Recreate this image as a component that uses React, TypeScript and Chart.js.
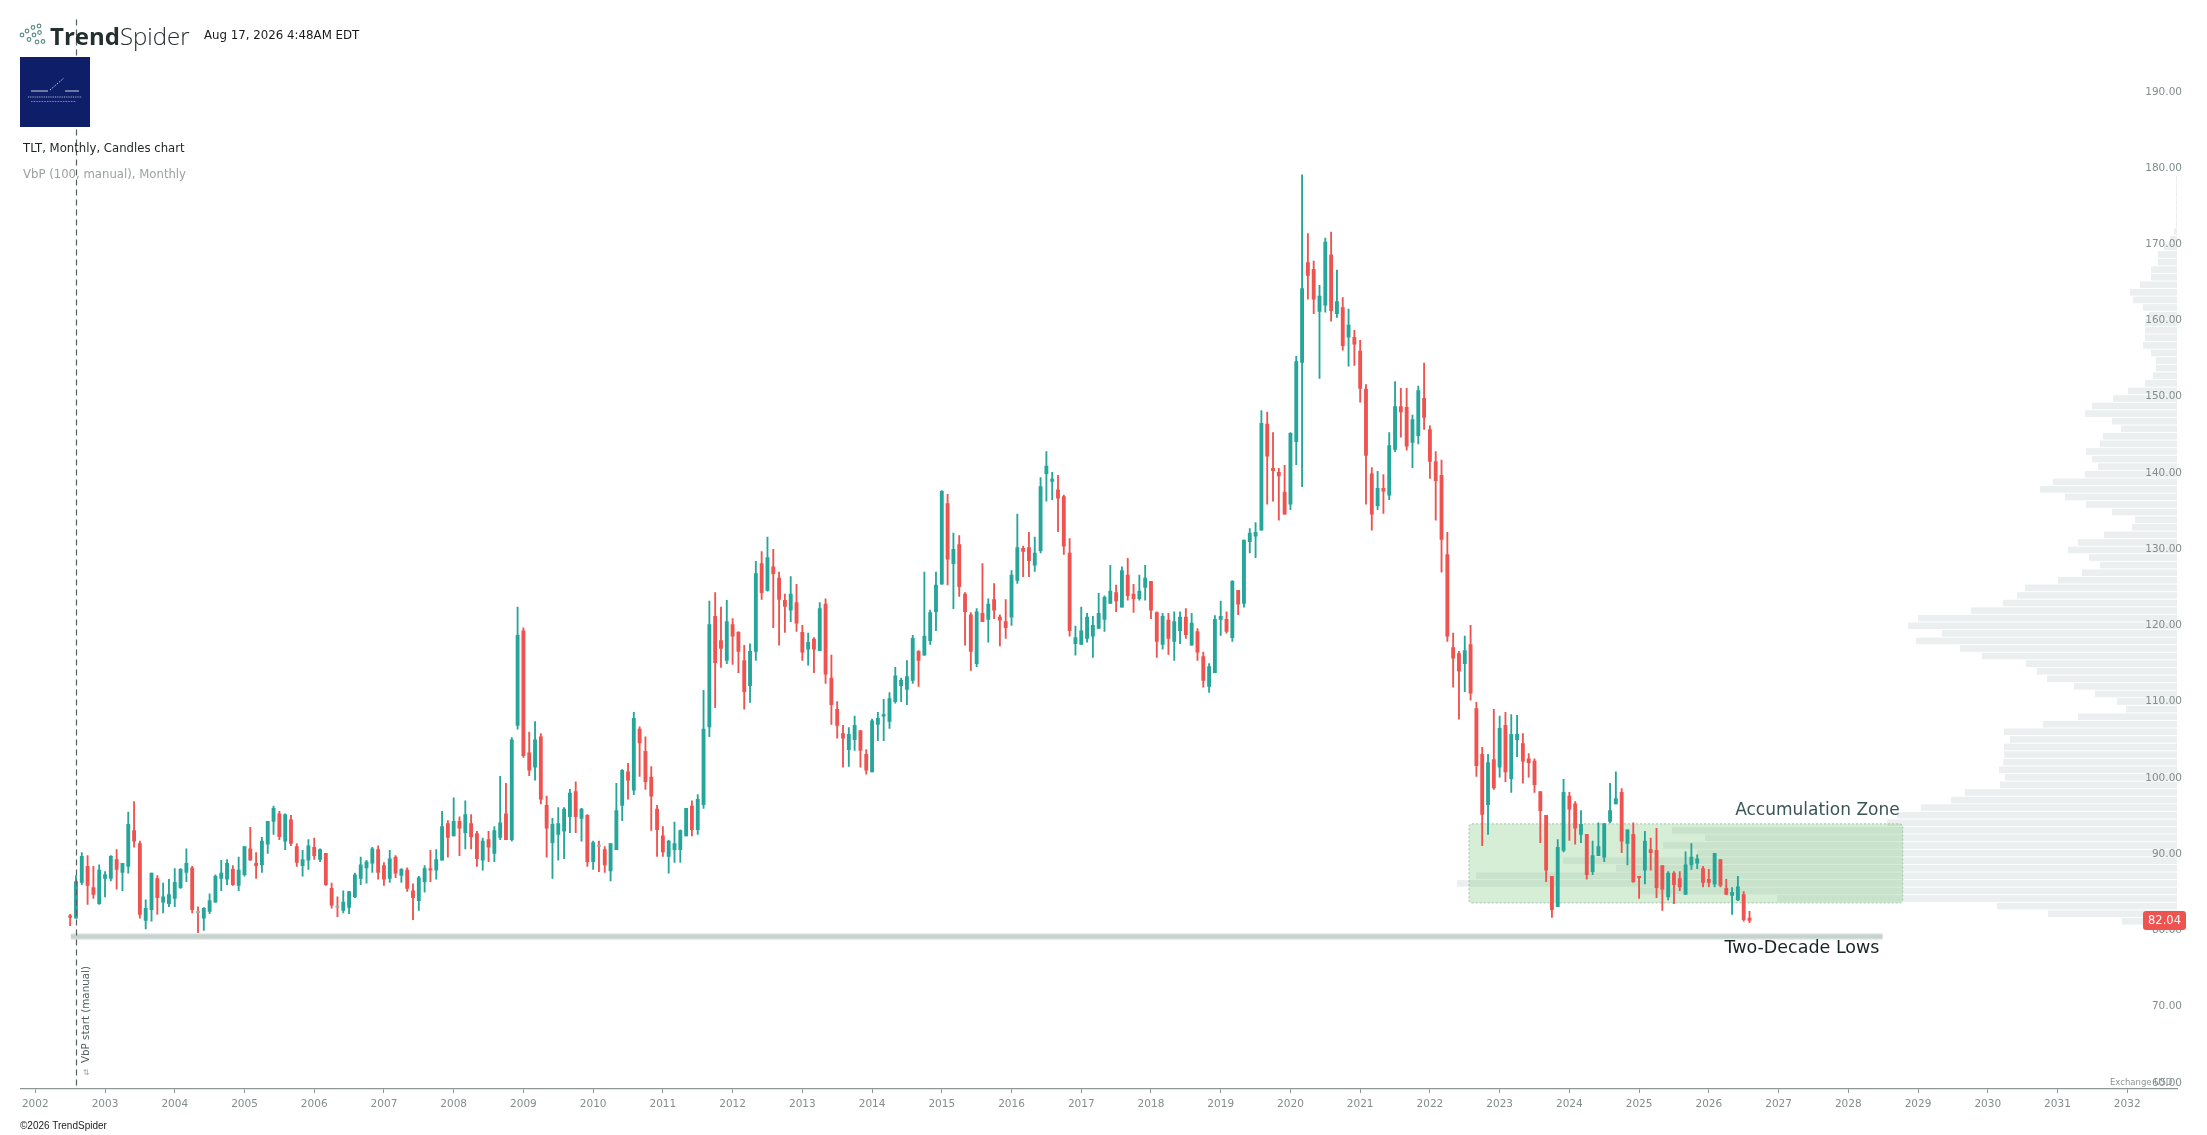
import React, { useEffect, useRef } from "react";
import { Chart, registerables } from "chart.js";

Chart.register(...registerables);

// ---------------- DATA ----------------
// Monthly TLT candles, first candle = July 2002, one value per month.
const FIRST_YEAR = 2002;
const FIRST_MONTH = 7;

const OPEN = [
  81.9, 81.6, 86.3, 88.4, 85.6, 83.5,
  86.8, 86.8, 89.3, 87.6, 88.4, 93.1, 91.4, 81.3, 82.7, 86.8, 83.7, 83.5,
  84.2, 85.6, 87.6, 88.2, 82.3, 81.6, 82.5, 83.7, 86.8, 86.7, 88.0, 85.9,
  87.3, 90.7, 88.8, 88.6, 91.3, 94.3, 95.3, 91.7, 94.5, 91.0, 88.5, 89.2,
  90.9, 89.3, 90.1, 85.5, 83.0, 82.6, 83.0, 84.4, 86.8, 88.2, 88.8, 90.6,
  88.5, 86.8, 89.6, 87.2, 87.9, 85.2, 83.9, 86.4, 88.1, 87.9, 89.2, 94.0,
  92.4, 94.3, 92.8, 94.0, 92.7, 89.2, 91.9, 90.1, 92.2, 95.3, 91.9, 106.9,
  119.3, 103.3, 101.4, 105.4, 96.4, 91.5, 92.6, 93.0, 94.9, 98.2, 94.7, 95.1,
  89.0, 91.0, 90.6, 87.8, 90.6, 96.4, 100.8, 98.4, 106.4, 103.5, 100.1, 95.9,
  92.4, 89.7, 90.6, 90.6, 92.4, 96.3, 93.2, 96.5, 106.7, 121.2, 118.0, 115.4,
  120.1, 119.1, 115.4, 112.1, 116.6, 128.1, 124.6, 127.7, 126.2, 123.3, 122.0, 123.0,
  119.1, 116.9, 118.2, 116.7, 122.8, 113.1, 109.0, 105.8, 103.7, 105.0, 106.2, 103.1,
  100.8, 107.0, 108.1, 107.4, 110.0, 112.1, 111.6, 112.8, 116.6, 116.1, 118.0, 121.8,
  125.4, 136.0, 128.1, 130.6, 124.1, 121.4, 115.0, 121.6, 120.8, 123.4, 121.1, 120.5,
  121.1, 125.9, 130.1, 130.2, 127.9, 129.8, 139.9, 138.9, 137.8, 136.9, 129.5, 117.6,
  117.5, 118.3, 118.6, 119.6, 120.8, 122.9, 124.3, 122.4, 126.6, 124.1, 123.5, 125.0,
  125.8, 121.7, 117.5, 120.7, 117.9, 119.3, 121.1, 117.4, 119.2, 115.9, 112.0, 113.8,
  120.8, 120.8, 118.4, 124.6, 122.9, 131.0, 131.7, 132.5, 146.4, 140.6, 140.1, 137.5,
  135.9, 144.1, 154.5, 167.6, 166.7, 161.2, 162.0, 168.6, 160.9, 161.7, 157.8, 157.8,
  156.0, 151.0, 139.9, 135.7, 138.0, 137.1, 143.1, 148.7, 148.6, 144.0, 144.9, 149.8,
  145.7, 141.5, 139.7, 129.3, 117.1, 116.3, 115.0, 117.5, 109.1, 103.1, 96.5, 102.4,
  101.4, 106.9, 99.9, 105.0, 104.5, 102.5, 102.2, 98.2, 95.1, 87.1, 83.1, 90.5,
  97.6, 96.6, 92.6, 92.6, 87.7, 89.8, 89.6, 94.3, 96.6, 98.1, 91.4, 92.6,
  87.0, 87.9, 90.6, 90.5, 88.5, 84.4, 87.5, 86.8, 84.7, 88.6, 88.8, 88.1,
  86.7, 86.1, 89.3, 85.5, 84.6, 84.0, 84.7, 81.6,
];

const HIGH = [
  82.1, 87.2, 90.2, 89.8, 88.4, 88.6,
  87.7, 89.8, 90.6, 88.8, 95.5, 96.9, 91.7, 84.0, 87.5, 87.2, 86.2, 86.7,
  88.1, 88.1, 90.7, 88.4, 83.1, 83.0, 84.8, 87.3, 89.2, 89.3, 88.5, 89.6,
  91.0, 93.5, 90.2, 92.2, 94.3, 96.3, 95.6, 95.3, 95.1, 91.4, 90.5, 91.9,
  92.1, 90.7, 90.1, 86.2, 84.4, 85.2, 85.1, 87.5, 89.6, 89.2, 90.9, 91.1,
  88.9, 90.5, 89.8, 88.1, 88.2, 86.1, 87.1, 88.5, 90.5, 90.6, 95.6, 94.4,
  97.4, 94.9, 97.0, 95.2, 93.0, 92.1, 93.0, 93.6, 100.2, 99.3, 105.3, 122.4,
  119.7, 106.0, 107.4, 105.8, 97.6, 94.7, 96.1, 96.1, 98.5, 99.5, 96.0, 95.2,
  91.7, 91.7, 91.0, 91.4, 99.3, 101.1, 101.9, 108.6, 106.7, 105.4, 101.5, 96.4,
  93.6, 91.8, 94.2, 93.2, 96.0, 97.0, 97.8, 111.5, 123.2, 124.3, 122.4, 123.3,
  120.9, 119.2, 117.4, 117.6, 128.4, 129.7, 131.6, 130.0, 127.0, 124.1, 126.4, 125.4,
  120.0, 119.0, 118.4, 123.0, 123.5, 116.1, 110.0, 106.9, 106.6, 108.1, 106.2, 103.7,
  107.7, 108.6, 110.3, 111.2, 114.5, 113.1, 115.4, 118.7, 116.7, 127.0, 122.0, 127.0,
  137.7, 137.2, 132.1, 131.8, 124.3, 121.7, 122.2, 128.1, 123.5, 125.5, 121.4, 123.4,
  127.2, 134.6, 130.4, 132.2, 131.6, 139.4, 142.8, 140.1, 139.7, 137.1, 131.4, 119.9,
  122.4, 121.6, 121.2, 124.2, 123.9, 127.9, 125.3, 127.7, 128.8, 125.4, 126.6, 127.9,
  125.8, 121.8, 121.6, 121.6, 121.8, 121.8, 122.2, 121.6, 119.6, 116.5, 115.0, 121.3,
  123.2, 121.8, 125.9, 124.6, 131.2, 132.7, 133.5, 148.2, 148.0, 145.3, 140.6, 141.0,
  145.3, 155.3, 179.1, 171.4, 167.8, 164.6, 170.8, 171.6, 166.6, 163.0, 161.5, 158.7,
  157.4, 151.6, 140.7, 140.2, 139.8, 145.3, 152.0, 151.1, 151.1, 147.6, 151.4, 154.4,
  146.2, 142.8, 141.7, 132.2, 119.0, 116.6, 118.6, 120.0, 109.9, 104.0, 103.1, 109.0,
  108.1, 108.6, 108.3, 108.2, 105.8, 103.2, 102.5, 98.2, 95.1, 87.1, 91.9, 99.8,
  98.1, 96.9, 95.7, 92.6, 91.7, 94.1, 94.0, 99.3, 100.8, 98.6, 93.2, 94.1,
  87.0, 93.0, 92.1, 93.4, 88.5, 87.7, 87.7, 87.7, 90.3, 91.4, 89.9, 88.4,
  88.0, 90.1, 89.3, 86.7, 85.6, 87.1, 85.1, 82.5,
];

const LOW = [
  80.6, 81.6, 86.0, 83.4, 84.2, 83.4,
  84.4, 86.5, 85.4, 85.2, 87.5, 90.9, 81.6, 80.2, 81.2, 82.1, 82.3, 83.1,
  83.1, 85.5, 86.4, 82.3, 79.7, 80.0, 82.2, 83.7, 85.2, 86.0, 85.9, 85.2,
  87.1, 89.2, 86.8, 87.6, 90.1, 92.6, 91.9, 90.6, 91.1, 88.4, 87.1, 88.0,
  89.3, 89.0, 85.9, 82.9, 81.8, 82.3, 82.2, 84.3, 86.0, 86.2, 87.6, 86.7,
  85.9, 86.3, 86.9, 86.3, 85.1, 81.4, 82.6, 85.0, 86.4, 86.7, 89.2, 89.6,
  92.4, 89.8, 90.7, 90.7, 88.4, 87.9, 89.0, 89.0, 91.9, 91.9, 91.7, 106.4,
  102.7, 100.3, 99.7, 96.6, 89.6, 86.8, 89.2, 89.4, 92.8, 92.8, 91.7, 88.4,
  88.0, 87.7, 87.6, 86.5, 90.6, 94.4, 97.2, 97.8, 100.2, 98.5, 93.1, 89.7,
  89.7, 87.5, 88.9, 88.9, 92.4, 92.4, 92.6, 96.0, 105.4, 109.2, 114.5, 115.0,
  114.9, 113.8, 109.0, 109.9, 115.4, 123.4, 124.5, 119.7, 117.4, 119.1, 120.5, 119.2,
  115.4, 114.8, 113.8, 116.7, 112.4, 107.0, 105.2, 101.4, 101.5, 103.6, 101.4, 100.5,
  100.8, 104.9, 104.9, 106.5, 109.8, 110.0, 109.6, 112.4, 112.0, 116.1, 117.5, 119.3,
  125.4, 125.3, 122.2, 123.8, 117.4, 114.1, 114.6, 120.5, 117.8, 120.9, 117.3, 118.3,
  120.0, 125.5, 126.4, 126.4, 127.1, 129.5, 136.3, 136.5, 132.3, 129.3, 118.6, 116.1,
  117.5, 117.8, 115.8, 119.6, 119.2, 122.9, 121.8, 122.4, 123.3, 121.7, 123.3, 123.3,
  120.9, 115.8, 116.9, 116.2, 115.4, 117.6, 118.3, 117.4, 115.4, 111.9, 111.2, 113.8,
  118.7, 119.0, 117.9, 121.4, 122.4, 129.5, 128.9, 132.5, 135.9, 136.3, 133.8, 134.6,
  135.2, 141.1, 138.2, 162.8, 160.9, 152.4, 161.1, 159.9, 160.4, 156.1, 154.0, 154.1,
  149.3, 135.9, 132.5, 135.2, 134.7, 136.5, 142.8, 144.7, 143.0, 140.7, 143.8, 145.7,
  139.3, 133.8, 127.0, 117.9, 111.9, 107.7, 111.3, 110.2, 100.2, 91.1, 92.6, 98.5,
  100.1, 99.5, 98.1, 102.8, 99.3, 100.1, 98.1, 91.5, 86.4, 81.7, 83.1, 90.3,
  91.8, 91.3, 91.5, 86.7, 87.3, 89.8, 89.0, 94.1, 96.6, 90.2, 88.6, 86.3,
  84.2, 86.1, 87.9, 84.3, 82.6, 84.0, 83.5, 85.2, 84.7, 88.0, 88.1, 85.7,
  85.7, 85.7, 85.7, 84.7, 82.1, 83.9, 81.2, 81.0,
];

const CLOSE = [
  81.7, 86.4, 89.7, 85.9, 84.7, 87.9,
  87.3, 89.7, 88.0, 88.8, 93.9, 91.7, 82.1, 82.9, 87.5, 84.3, 84.4, 84.7,
  86.3, 88.0, 88.8, 82.7, 82.3, 82.9, 83.9, 87.1, 87.5, 88.8, 86.0, 87.9,
  91.0, 89.2, 88.5, 91.7, 94.3, 96.0, 92.3, 95.2, 91.4, 88.9, 89.3, 91.1,
  89.8, 90.6, 86.0, 83.3, 83.0, 83.7, 85.1, 87.3, 88.6, 89.0, 90.7, 87.6,
  86.7, 89.4, 87.5, 88.0, 85.5, 84.3, 86.9, 88.1, 87.9, 89.3, 93.6, 92.2,
  94.3, 93.4, 95.2, 92.3, 89.4, 91.7, 90.9, 93.1, 94.1, 91.9, 105.0, 118.7,
  102.9, 101.0, 105.0, 97.2, 93.4, 93.9, 94.0, 95.9, 98.0, 94.9, 95.9, 89.0,
  91.5, 91.0, 88.6, 91.4, 95.7, 101.0, 99.7, 107.8, 104.6, 99.5, 97.6, 93.2,
  90.3, 91.7, 91.4, 93.1, 96.0, 93.2, 97.2, 106.4, 120.1, 115.1, 117.0, 120.5,
  118.6, 116.6, 111.3, 116.6, 126.8, 124.3, 128.9, 126.8, 123.4, 122.5, 124.1, 120.3,
  116.5, 117.8, 116.9, 122.2, 113.6, 109.6, 106.9, 105.2, 105.7, 106.9, 103.6, 101.0,
  107.5, 107.8, 108.3, 110.4, 113.4, 112.8, 113.3, 118.3, 115.4, 118.6, 121.7, 125.3,
  137.6, 128.7, 130.0, 125.1, 121.8, 116.6, 121.8, 120.5, 122.8, 122.0, 120.7, 119.7,
  126.6, 130.2, 129.7, 128.5, 129.5, 138.2, 140.9, 139.2, 136.7, 130.4, 119.3, 118.4,
  119.3, 121.1, 120.0, 121.6, 123.7, 124.5, 123.2, 127.2, 123.9, 123.5, 124.5, 126.2,
  122.0, 117.9, 121.2, 118.3, 120.5, 121.1, 118.8, 120.3, 116.5, 112.8, 114.6, 120.8,
  121.2, 119.2, 125.8, 122.8, 131.2, 132.1, 132.2, 146.5, 142.2, 140.3, 139.6, 134.6,
  145.2, 154.6, 164.2, 165.9, 162.8, 163.2, 170.3, 161.3, 162.5, 156.7, 159.4, 156.9,
  151.1, 142.3, 134.6, 138.0, 137.6, 143.6, 148.7, 148.0, 143.5, 147.0, 150.8, 147.3,
  141.5, 139.0, 131.3, 118.6, 115.7, 114.0, 116.7, 111.1, 101.6, 95.2, 102.0, 98.7,
  106.5, 100.8, 105.7, 105.7, 102.2, 102.0, 99.1, 95.7, 87.9, 82.7, 90.9, 98.1,
  95.9, 93.4, 93.9, 87.3, 89.8, 91.0, 94.0, 95.7, 97.3, 91.7, 93.2, 86.4,
  86.9, 91.7, 90.2, 85.6, 85.4, 87.5, 86.0, 85.7, 88.6, 89.6, 89.4, 86.3,
  86.3, 90.1, 85.9, 84.7, 85.0, 85.7, 81.4, 81.3,
];

// Volume-by-price rows (100 rows, bottom to top), relative volume
const VBP_VOLUME = [
  20, 55, 129, 180, 400, 537, 720, 701, 561, 614,
  480, 514, 472, 505, 290, 280, 256, 226, 212, 177,
  172, 178, 174, 173, 173, 167, 173, 134, 99, 51,
  60, 82, 103, 130, 140, 151, 195, 217, 261, 235,
  269, 259, 206, 174, 160, 152, 119, 95, 77, 88,
  109, 99, 73, 45, 42, 65, 91, 112, 137, 124,
  92, 79, 85, 91, 77, 74, 56, 65, 92, 85,
  64, 49, 32, 24, 21, 21, 26, 34, 32, 32,
  32, 28, 34, 44, 47, 37, 26, 26, 19, 19,
  13, 7, 3, 1, 1, 1, 1, 1, 1, 1,
];
const VBP_RANGE = [79.7, 179.1];
const VBP_FULL = 2156; // volume that would span the whole plot width
const VBP_START = 2002 + 7 / 12; // Aug 2002

// Annotations
const ZONE_X = [2022.56, 2028.78];
const ZONE_Y = [83.6, 93.97];
const ZONE_LABEL = "Accumulation Zone";
const LOWS_X = [2002.51, 2028.49];
const LOWS_Y = 79.2;
const LOWS_LABEL = "Two-Decade Lows";
const LAST_PRICE_TEXT = "82.04";

// Tick labels
const X_TICK_YEARS = [
  2002, 2003, 2004, 2005, 2006, 2007, 2008, 2009, 2010, 2011, 2012, 2013, 2014, 2015, 2016,
  2017, 2018, 2019, 2020, 2021, 2022, 2023, 2024, 2025, 2026, 2027, 2028, 2029, 2030, 2031, 2032,
];
const Y_TICK_VALUES = [60, 70, 80, 90, 100, 110, 120, 130, 140, 150, 160, 170, 180, 190];

// ---------------- STYLE ----------------
const UP = "#26a69a";
const DOWN = "#ef5350";
const DOJI = "#a3a8ab";
const AXIS_TEXT = "#838d8d";
const FONT = "'DejaVu Sans', sans-serif";

const overlayPlugin = {
  id: "overlay",
  beforeDatasetsDraw(chart: any) {
    const { ctx, chartArea, scales } = chart;
    const x = scales.x, y = scales.y;
    ctx.save();
    // Volume by price, anchored at the right edge of the plot
    const n = VBP_VOLUME.length;
    const step = (VBP_RANGE[1] - VBP_RANGE[0]) / n;
    const pxPerVol = chartArea.width / VBP_FULL;
    ctx.fillStyle = "#ebeff0";
    VBP_VOLUME.forEach((v, i) => {
      const yb = y.getPixelForValue(VBP_RANGE[0] + i * step);
      const yt = y.getPixelForValue(VBP_RANGE[0] + (i + 1) * step);
      const w = v * pxPerVol;
      ctx.fillRect(chartArea.right - w, yt + 0.5, w, yb - yt - 1);
    });
    // Accumulation zone
    const zx0 = x.getPixelForValue(ZONE_X[0]);
    const zx1 = x.getPixelForValue(ZONE_X[1]);
    const zy0 = y.getPixelForValue(ZONE_Y[1]);
    const zy1 = y.getPixelForValue(ZONE_Y[0]);
    ctx.beginPath();
    if (ctx.roundRect) ctx.roundRect(zx0, zy0, zx1 - zx0, zy1 - zy0, 3);
    else ctx.rect(zx0, zy0, zx1 - zx0, zy1 - zy0);
    ctx.fillStyle = "rgba(120,195,120,0.3)";
    ctx.fill();
    ctx.setLineDash([2, 2]);
    ctx.lineWidth = 1;
    ctx.strokeStyle = "rgba(150,185,160,0.8)";
    ctx.stroke();
    ctx.restore();
  },
  afterDatasetsDraw(chart: any) {
    const { ctx, chartArea, scales } = chart;
    const x = scales.x, y = scales.y;
    ctx.save();
    // VbP start dashed line
    const vx = Math.round(x.getPixelForValue(VBP_START)) + 0.5;
    ctx.beginPath();
    ctx.setLineDash([6, 4]);
    ctx.strokeStyle = "#55605f";
    ctx.lineWidth = 1.2;
    ctx.moveTo(vx, chartArea.top);
    ctx.lineTo(vx, chartArea.bottom);
    ctx.stroke();
    ctx.setLineDash([]);
    // Vertical label
    ctx.save();
    ctx.translate(vx + 9.5, chartArea.bottom - 26);
    ctx.rotate(-Math.PI / 2);
    ctx.font = `10.3px ${FONT}`;
    ctx.fillStyle = "#4e5a5a";
    ctx.textAlign = "left";
    ctx.textBaseline = "middle";
    ctx.fillText("VbP start (manual)", 0, 0);
    ctx.restore();
    ctx.font = `8px ${FONT}`;
    ctx.fillStyle = "#9aa5a5";
    ctx.textAlign = "center";
    ctx.textBaseline = "middle";
    ctx.fillText("⇅", vx + 9.5, chartArea.bottom - 16);

    // Zone label
    ctx.font = `17px ${FONT}`;
    ctx.fillStyle = "#3b5555";
    ctx.textAlign = "right";
    ctx.textBaseline = "alphabetic";
    ctx.fillText(ZONE_LABEL, x.getPixelForValue(ZONE_X[1]) - 3, y.getPixelForValue(ZONE_Y[1]) - 9);
    // Lows label
    ctx.font = `17.5px ${FONT}`;
    ctx.fillStyle = "#1b2424";
    ctx.textBaseline = "middle";
    ctx.fillText(LOWS_LABEL, x.getPixelForValue(LOWS_X[1]) - 3, y.getPixelForValue(LOWS_Y) + 11.5);
    ctx.restore();
  },
  afterDraw(chart: any) {
    const { ctx, chartArea, scales } = chart;
    const y = scales.y;
    ctx.save();
    // Exchange note
    ctx.font = `8.5px ${FONT}`;
    ctx.fillStyle = "#8a9494";
    ctx.textAlign = "left";
    ctx.textBaseline = "middle";
    ctx.fillText("Exchange USD", chartArea.right - 67, y.getPixelForValue(60));
    // Last price tag
    const py = y.getPixelForValue(CLOSE[CLOSE.length - 1]);
    const bx = chartArea.right - 34;
    const bw = 43, bh = 19;
    ctx.beginPath();
    if (ctx.roundRect) ctx.roundRect(bx, py - bh / 2, bw, bh, 3);
    else ctx.rect(bx, py - bh / 2, bw, bh);
    ctx.fillStyle = DOWN;
    ctx.fill();
    ctx.font = `11.5px ${FONT}`;
    ctx.fillStyle = "#ffffff";
    ctx.textAlign = "center";
    ctx.textBaseline = "middle";
    ctx.fillText(LAST_PRICE_TEXT, bx + bw / 2, py + 0.5);
    ctx.restore();
  },
};

export default function App() {
  const canvasRef = useRef<HTMLCanvasElement | null>(null);

  useEffect(() => {
    if (!canvasRef.current) return;
    Chart.defaults.font.family = FONT;
    const xs = OPEN.map((_, i) => FIRST_YEAR + (FIRST_MONTH - 1 + i) / 12);
    const dir = OPEN.map((o, i) => (CLOSE[i] > o ? 1 : CLOSE[i] < o ? -1 : 0));
    const bodyColors = dir.map((d) => (d > 0 ? UP : d < 0 ? DOWN : DOJI));
    const wickColors = dir.map((d) => (d > 0 ? UP : DOWN));

    const chart = new Chart(canvasRef.current, {
      type: "bar",
      data: {
        datasets: [
          {
            type: "bar",
            label: "body",
            data: xs.map((x, i) => ({ x, y: [OPEN[i], CLOSE[i]] })) as any,
            backgroundColor: bodyColors,
            barThickness: 3.2,
            minBarLength: 1.5,
            grouped: false,
            order: 0,
          } as any,
          {
            type: "bar",
            label: "wick",
            data: xs.map((x, i) => ({ x, y: [LOW[i], HIGH[i]] })) as any,
            backgroundColor: wickColors,
            barThickness: 1.2,
            grouped: false,
            order: 1,
          } as any,
          {
            type: "line",
            label: "lowsInner",
            data: LOWS_X.map((x) => ({ x, y: LOWS_Y })),
            borderColor: "#c4d3cf",
            borderWidth: 4,
            pointRadius: 0,
            borderCapStyle: "butt",
            order: 2,
          } as any,
          {
            type: "line",
            label: "lowsOuter",
            data: LOWS_X.map((x) => ({ x, y: LOWS_Y })),
            borderColor: "#e0e7e5",
            borderWidth: 6.5,
            pointRadius: 0,
            borderCapStyle: "butt",
            order: 3,
          } as any,
        ],
      },
      options: {
        responsive: false,
        animation: false,
        events: [],
        layout: { padding: { left: 21, right: 30, top: 19.4, bottom: 0 } },
        plugins: { legend: { display: false }, tooltip: { enabled: false } },
        scales: {
          x: {
            type: "linear",
            min: 2001.795,
            max: 2032.714,
            offset: false,
            afterBuildTicks: (s: any) => {
              s.ticks = X_TICK_YEARS.map((v) => ({ value: v }));
            },
            afterFit: (s: any) => {
              s.height = 46;
            },
            grid: {
              display: true,
              drawOnChartArea: false,
              drawTicks: true,
              tickLength: 4,
              color: "#8e9696",
              offset: false,
            },
            border: { display: true, color: "#8e9696", width: 1.3 },
            ticks: {
              color: AXIS_TEXT,
              font: { size: 10.5 },
              padding: 4.7,
              maxRotation: 0,
              autoSkip: false,
              callback: (v: any) => String(v),
            },
          },
          y: {
            type: "linear",
            position: "right",
            min: 59.19,
            max: 199.5,
            afterBuildTicks: (s: any) => {
              s.ticks = Y_TICK_VALUES.map((v) => ({ value: v }));
            },
            afterFit: (s: any) => {
              s.width = 0;
            },
            grid: { display: false, drawTicks: false },
            border: { display: false },
            ticks: {
              mirror: true,
              padding: 5,
              z: 1,
              color: AXIS_TEXT,
              font: { size: 10.5 },
              callback: (v: any) => Number(v).toFixed(2),
            },
          },
        } as any,
      },
      plugins: [overlayPlugin],
    });
    return () => chart.destroy();
  }, []);

  const textBase: React.CSSProperties = {
    position: "absolute",
    whiteSpace: "nowrap",
    fontFamily: FONT,
  };

  return (
    <div
      style={{
        position: "fixed",
        left: 0,
        top: 0,
        width: 2207,
        height: 1135,
        background: "#ffffff",
        overflow: "hidden",
      }}
    >
      <canvas
        ref={canvasRef}
        width={2207}
        height={1135}
        style={{ position: "absolute", left: 0, top: 0, width: 2207, height: 1135 }}
      />
      <svg
        width={200}
        height={140}
        style={{ position: "absolute", left: 0, top: 0, pointerEvents: "none" }}
      >
        <g fill="none" stroke="#5f8f8e" strokeWidth={1.2}>
          <circle cx={22} cy={35} r={1.8} />
          <circle cx={27} cy={31} r={1.8} />
          <circle cx={33} cy={27.5} r={1.8} />
          <circle cx={39} cy={26} r={1.8} />
          <circle cx={29} cy={39.5} r={1.8} />
          <circle cx={34} cy={35} r={1.8} />
          <circle cx={39.5} cy={32.5} r={1.8} />
          <circle cx={37} cy={42} r={1.8} />
          <circle cx={43} cy={41.5} r={1.8} />
        </g>
        <rect x={20} y={57} width={70} height={70} fill="#0e1e68" />
        <g stroke="#ffffff" strokeWidth={0.8}>
          <line x1={31} y1={91} x2={48} y2={91} />
          <line x1={50} y1={90} x2={64} y2={78} strokeDasharray="1.5 1.5" />
          <line x1={65} y1={91} x2={79} y2={91} />
          <line x1={28} y1={97} x2={82} y2={97} strokeDasharray="1 0.8" opacity={0.85} />
          <line x1={31} y1={101.5} x2={76} y2={101.5} strokeDasharray="0.8 0.8" opacity={0.7} />
        </g>
      </svg>
      <div
        style={{
          ...textBase,
          left: 50,
          top: 23.5,
          fontFamily: "'Open Sans', sans-serif",
          fontSize: 24,
          lineHeight: "23.5px",
          color: "#24302f",
        }}
      >
        <span style={{ fontWeight: 700 }}>Trend</span>
        <span style={{ fontWeight: 300 }}>Spider</span>
      </div>
      <div style={{ ...textBase, left: 204, top: 28, fontSize: 11.8, lineHeight: "14px", color: "#1a1a1a" }}>
        Aug 17, 2026 4:48AM EDT
      </div>
      <div style={{ ...textBase, left: 23, top: 141, fontSize: 11.7, lineHeight: "14px", color: "#1e2424" }}>
        TLT, Monthly, Candles chart
      </div>
      <div style={{ ...textBase, left: 23, top: 167, fontSize: 11.7, lineHeight: "14px", color: "#9aa2a2" }}>
        VbP (100, manual), Monthly
      </div>
      <div
        style={{
          ...textBase,
          left: 20,
          top: 1120,
          fontFamily: "'Liberation Sans', Arial, sans-serif",
          fontSize: 10,
          lineHeight: "12px",
          color: "#222222",
        }}
      >
        ©2026 TrendSpider
      </div>
    </div>
  );
}
